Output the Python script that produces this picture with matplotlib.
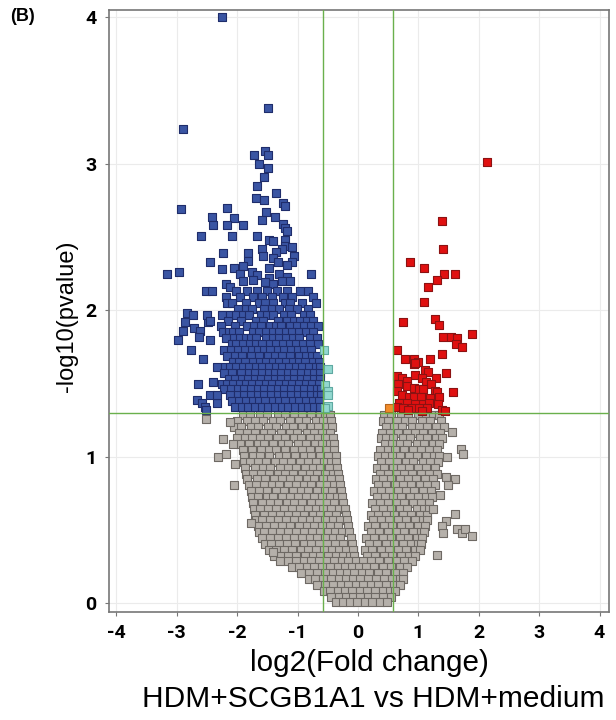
import matplotlib
matplotlib.use('Agg')
import matplotlib.pyplot as plt
import numpy as np

# log2 fold change thresholds and p-value threshold
fc_cut = 0.585
p_cut = 1.301

# significant, down (blue): scattered points outside the dense core
blue_x = [-2.25, -1.49, -2.90, -1.54, -1.72, -1.49, -1.64, -1.49, -1.56, -1.67,
          -1.36, -1.69, -1.56, -1.24, -1.21, -2.93, -2.17, -2.42, -2.05, -1.52,
          -1.59, -1.37, -2.40, -2.17, -1.90, -1.24, -1.21, -1.18, -2.60, -2.09,
          -1.67, -1.47, -1.41, -1.21, -1.21, -1.59, -1.26, -1.09, -2.24, -1.82,
          -1.36, -1.57, -1.06, -1.82, -1.41, -1.32, -1.09, -2.45, -1.90, -2.25,
          -2.05, -1.47, -1.18, -0.78, -1.75, -1.31, -1.18, -1.95, -1.67, -1.47,
          -3.16, -2.96, -1.90, -1.26, -1.13, -1.74, -2.19, -2.12, -1.41, -1.54,
          -2.65, -2.40, -2.67, -2.58, -2.33, -2.53, -2.83, -2.73, -2.86, -2.72,
          -2.48, -2.90, -2.62, -2.98, -2.63, -2.45, -2.76, -2.57, -2.52]
blue_y = [4.00, 3.38, 3.24, 3.09, 3.06, 3.06, 3.00, 2.97, 2.91, 2.85,
          2.80, 2.77, 2.75, 2.73, 2.71, 2.69, 2.70, 2.64, 2.63, 2.67,
          2.62, 2.64, 2.58, 2.58, 2.58, 2.59, 2.56, 2.54, 2.51, 2.51,
          2.51, 2.48, 2.47, 2.48, 2.44, 2.42, 2.42, 2.43, 2.39, 2.39,
          2.40, 2.37, 2.37, 2.34, 2.36, 2.33, 2.33, 2.33, 2.30, 2.28,
          2.29, 2.29, 2.31, 2.25, 2.26, 2.25, 2.23, 2.25, 2.24, 2.22,
          2.25, 2.26, 2.20, 2.20, 2.20, 2.21, 2.18, 2.16, 2.18, 2.19,
          1.50, 1.51, 1.39, 1.37, 1.37, 1.34, 1.98, 1.97, 1.92, 1.88,
          1.92, 1.86, 1.86, 1.80, 1.82, 1.80, 1.73, 1.67, 1.32]

# dense core of the blue group, row by row (y, xs)
blue_rows = [
    (2.13, [-2.52, -2.42, -2.02, -1.84, -1.67, -1.51, -1.34, -1.18, -0.96, -0.83]),
    (2.09, [-2.19, -1.95, -1.74, -1.59, -1.42, -1.24, -1.09, -0.75]),
    (2.05, [-2.17, -2.09, -1.86, -1.64, -1.54, -1.41, -1.21, -1.12, -0.93, -0.70]),
    (2.01, [-1.99, -1.86, -1.75, -1.55, -1.43, -1.30, -1.14, -1.01, -0.83]),
    (1.97, [-2.50, -2.25, -2.12, -2.02, -1.90, -1.80, -1.60, -1.51, -1.40, -1.22,
            -1.10, -0.90, -0.79]),
    (1.93, [-2.45, -2.15, -1.94, -1.69, -1.57, -1.32, -1.17, -1.06, -0.96, -0.85,
            -0.74]),
    (1.89, [-2.27, -2.04, -1.84, -1.72, -1.60, -1.46, -1.36, -1.27, -1.12, -1.01,
            -0.90, -0.78, -0.66]),
    (1.85, [-2.24, -2.13, -2.06, -1.97, -1.74, -1.63, -1.52, -1.41, -1.30, -1.19,
            -1.09, -0.97, -0.86, -0.75]),
    (1.81, [-2.18, -2.05, -1.95, -1.86, -1.77, -1.68, -1.52, -1.41, -1.30, -1.19,
            -1.08, -0.97, -0.80, -0.68]),
    (1.77, [-2.09, -2.01, -1.91, -1.79, -1.68, -1.58, -1.46, -1.35, -1.24, -1.13,
            -1.02, -0.91, -0.80, -0.66]),
    (1.73, [-2.21, -2.10, -1.98, -1.87, -1.76, -1.65, -1.55, -1.45, -1.33, -1.22,
            -1.11, -1.00, -0.89, -0.78]),
    (1.69, [-2.17, -2.04, -1.92, -1.77, -1.63, -1.49, -1.38, -1.25, -1.12, -0.98,
            -0.86, -0.76, -0.67]),
    (1.65, [-2.07, -1.97, -1.87, -1.73, -1.62, -1.52, -1.41, -1.30, -1.19, -1.08,
            -0.97, -0.87, -0.75, -0.64]),
    (1.61, [-2.33, -2.20, -2.12, -2.02, -1.91, -1.80, -1.68, -1.58, -1.47, -1.35,
            -1.25, -1.14, -1.03, -0.92, -0.81, -0.70, -0.62]),
    (1.57, [-2.22, -2.09, -1.93, -1.81, -1.70, -1.59, -1.48, -1.38, -1.27, -1.16,
            -1.05, -0.94, -0.83, -0.72, -0.62]),
    (1.53, [-2.13, -2.03, -1.92, -1.82, -1.71, -1.60, -1.49, -1.38, -1.27, -1.16,
            -1.06, -0.95, -0.84, -0.73, -0.63]),
    (1.50, [-2.25, -2.16, -2.07, -1.96, -1.85, -1.75, -1.63, -1.52, -1.42, -1.30,
            -1.19, -1.09, -0.98, -0.86, -0.76, -0.65]),
    (1.46, [-2.21, -2.10, -1.99, -1.88, -1.77, -1.66, -1.55, -1.44, -1.33, -1.22,
            -1.11, -1.00, -0.89, -0.78, -0.68, -0.61]),
    (1.42, [-2.45, -2.33, -2.11, -1.99, -1.88, -1.77, -1.66, -1.55, -1.44, -1.33,
            -1.22, -1.11, -1.00, -0.89, -0.78, -0.68, -0.61]),
    (1.38, [-2.08, -1.97, -1.85, -1.74, -1.63, -1.53, -1.41, -1.30, -1.20, -1.08,
            -0.97, -0.86, -0.75, -0.65]),
    (1.34, [-2.04, -1.92, -1.82, -1.71, -1.59, -1.49, -1.37, -1.26, -1.16, -1.04,
            -0.93, -0.83, -0.72, -0.63]),
]

# significant, up (red)
red_x = [2.14, 1.39, 1.41, 0.86, 1.09, 1.42, 1.61, 1.31, 1.16, 1.09,
         0.75, 1.27, 1.35, 1.89, 1.41, 1.54, 1.64, 1.62, 1.72, 0.65,
         0.78, 0.93, 0.99, 0.93, 1.19, 1.39, 1.46, 1.11, 1.16, 0.94,
         1.29, 1.06, 0.65, 0.73, 0.81, 1.13, 1.21, 0.66, 0.81, 0.93,
         1.01, 1.08, 0.65, 1.27, 1.31, 1.57, 0.73, 0.84, 0.93, 1.04,
         1.19, 1.35, 0.68, 0.81, 0.94, 1.08, 1.18, 1.32, 0.64, 0.75,
         0.89, 1.01, 1.14, 1.39, 1.44, 0.83, 1.06, 0.94]
red_y = [3.01, 2.61, 2.42, 2.33, 2.29, 2.25, 2.25, 2.21, 2.16, 2.06,
         1.92, 1.94, 1.90, 1.84, 1.82, 1.82, 1.81, 1.77, 1.75, 1.73,
         1.67, 1.67, 1.65, 1.63, 1.67, 1.70, 1.57, 1.59, 1.58, 1.56,
         1.54, 1.54, 1.55, 1.54, 1.52, 1.51, 1.50, 1.50, 1.48, 1.47,
         1.46, 1.46, 1.45, 1.45, 1.44, 1.44, 1.42, 1.41, 1.41, 1.41,
         1.40, 1.41, 1.37, 1.37, 1.36, 1.36, 1.37, 1.36, 1.34, 1.33,
         1.33, 1.33, 1.33, 1.32, 1.31, 1.32, 1.31, 1.64]

# borderline fold change (light teal / orange)
teal_x = [-0.56, -0.50, -0.55, -0.50, -0.50, -0.50, -0.55]
teal_y = [1.73, 1.60, 1.49, 1.45, 1.42, 1.35, 1.33]
orange_x = [0.51]
orange_y = [1.33]

# not significant (grey): outliers around the V
gray_x = [-2.52, -2.12, -2.24, -2.07, -2.32, -2.19, -2.04, -2.05, -1.77, -1.41,
          1.56, 1.71, 1.74, 1.47, 1.46, 1.61, 1.49, 1.36, 1.24, 1.61,
          1.46, 1.39, 1.64, 1.72, 1.77, 1.89, 1.41, 1.31]
gray_y = [1.26, 1.24, 1.12, 1.09, 1.00, 1.02, 0.95, 0.81, 0.55, 0.35,
          1.17, 1.05, 1.02, 1.00, 0.86, 0.85, 0.81, 0.74, 0.64, 0.61,
          0.56, 0.53, 0.51, 0.48, 0.51, 0.46, 0.48, 0.33]

# not significant (grey): the V-shaped cloud, row by row (y, xs)
gray_rows = [
    (1.285, [-1.90, -1.79, -1.62, -1.50, -1.33, -1.21, -1.05, -0.93, -0.78, -0.63,
             -0.55, -0.47, 0.43, 0.55, 0.71, 0.83, 0.99, 1.12, 1.25, 1.35]),
    (1.245, [-2.00, -1.84, -1.71, -1.57, -1.40, -1.29, -1.13, -0.98, -0.86, -0.70,
             -0.58, -0.45, 0.41, 0.49, 0.64, 0.78, 0.90, 1.06, 1.19, 1.37]),
    (1.205, [-2.05, -1.93, -1.77, -1.66, -1.49, -1.35, -1.19, -1.08, -0.92, -0.78,
             -0.66, -0.52, -0.43, 0.46, 0.60, 0.73, 0.89, 1.01, 1.15, 1.30, 1.42]),
    (1.165, [-1.97, -1.83, -1.70, -1.55, -1.44, -1.27, -1.12, -1.01, -0.84, -0.73,
             -0.60, -0.47, 0.40, 0.53, 0.66, 0.81, 0.95, 1.08, 1.23, 1.36]),
    (1.125, [-2.00, -1.87, -1.76, -1.62, -1.49, -1.34, -1.21, -1.06, -0.95, -0.79,
             -0.66, -0.54, -0.42, 0.38, 0.47, 0.58, 0.74, 0.87, 1.02, 1.14, 1.29,
             1.40]),
    (1.085, [-1.95, -1.81, -1.66, -1.55, -1.41, -1.26, -1.15, -0.99, -0.86, -0.71,
             -0.59, -0.47, -0.40, 0.44, 0.56, 0.70, 0.82, 0.97, 1.09, 1.24, 1.35]),
    (1.045, [-1.91, -1.75, -1.60, -1.47, -1.35, -1.20, -1.06, -0.92, -0.79, -0.65,
             -0.53, -0.39, 0.36, 0.50, 0.62, 0.77, 0.91, 1.04, 1.18, 1.31]),
    (1.005, [-1.89, -1.73, -1.62, -1.47, -1.31, -1.19, -1.04, -0.89, -0.77, -0.62,
             -0.49, -0.37, 0.34, 0.45, 0.57, 0.70, 0.85, 0.98, 1.12, 1.26, 1.35]),
    (0.965, [-1.88, -1.79, -1.65, -1.52, -1.38, -1.24, -1.10, -0.96, -0.83, -0.69,
             -0.56, -0.44, -0.36, 0.39, 0.51, 0.65, 0.79, 0.92, 1.07, 1.20, 1.33]),
    (0.925, [-1.87, -1.70, -1.57, -1.45, -1.29, -1.16, -1.03, -0.88, -0.74, -0.62,
             -0.48, -0.34, 0.32, 0.43, 0.58, 0.71, 0.84, 0.99, 1.13, 1.28]),
    (0.885, [-1.85, -1.74, -1.60, -1.48, -1.33, -1.20, -1.07, -0.93, -0.80, -0.67,
             -0.55, -0.42, -0.33, 0.36, 0.49, 0.64, 0.77, 0.90, 1.04, 1.18, 1.31]),
    (0.845, [-1.83, -1.67, -1.54, -1.39, -1.26, -1.13, -0.99, -0.85, -0.72, -0.58,
             -0.45, -0.31, 0.30, 0.41, 0.55, 0.69, 0.83, 0.96, 1.11, 1.25]),
    (0.805, [-1.80, -1.69, -1.56, -1.43, -1.30, -1.16, -1.02, -0.89, -0.77, -0.63,
             -0.51, -0.39, -0.30, 0.33, 0.47, 0.61, 0.74, 0.88, 1.02, 1.15, 1.27]),
    (0.765, [-1.77, -1.63, -1.50, -1.35, -1.22, -1.08, -0.95, -0.82, -0.68, -0.55,
             -0.43, -0.28, 0.27, 0.39, 0.52, 0.66, 0.80, 0.93, 1.08, 1.21]),
    (0.725, [-1.75, -1.65, -1.51, -1.40, -1.26, -1.12, -0.99, -0.86, -0.73, -0.60,
             -0.47, -0.35, -0.26, 0.31, 0.45, 0.58, 0.71, 0.86, 0.99, 1.13, 1.22]),
    (0.685, [-1.73, -1.59, -1.46, -1.32, -1.18, -1.05, -0.92, -0.78, -0.65, -0.52,
             -0.39, -0.24, 0.24, 0.36, 0.50, 0.63, 0.77, 0.91, 1.04, 1.18]),
    (0.645, [-1.72, -1.62, -1.49, -1.36, -1.23, -1.09, -0.96, -0.83, -0.70, -0.57,
             -0.44, -0.32, -0.22, 0.28, 0.42, 0.55, 0.69, 0.82, 0.97, 1.10, 1.18]),
    (0.605, [-1.71, -1.56, -1.43, -1.29, -1.15, -1.02, -0.89, -0.75, -0.62, -0.50,
             -0.37, -0.20, 0.21, 0.33, 0.46, 0.60, 0.74, 0.88, 1.02, 1.15]),
    (0.565, [-1.69, -1.59, -1.46, -1.33, -1.19, -1.06, -0.93, -0.80, -0.67, -0.54,
             -0.42, -0.29, -0.18, 0.25, 0.39, 0.52, 0.66, 0.80, 0.94, 1.07, 1.14]),
    (0.525, [-1.66, -1.52, -1.39, -1.26, -1.12, -0.98, -0.85, -0.72, -0.59, -0.46,
             -0.33, -0.16, 0.17, 0.29, 0.43, 0.57, 0.71, 0.85, 0.99, 1.11]),
    (0.485, [-1.63, -1.55, -1.42, -1.29, -1.16, -1.02, -0.89, -0.76, -0.63, -0.50,
             -0.38, -0.26, -0.14, 0.21, 0.35, 0.49, 0.63, 0.77, 0.91, 1.04, 1.09]),
    (0.445, [-1.59, -1.46, -1.33, -1.19, -1.06, -0.93, -0.80, -0.67, -0.54, -0.42,
             -0.30, -0.12, 0.14, 0.27, 0.41, 0.55, 0.69, 0.83, 0.97, 1.06]),
    (0.405, [-1.54, -1.44, -1.31, -1.17, -1.04, -0.90, -0.77, -0.64, -0.51, -0.38,
             -0.25, -0.10, 0.18, 0.32, 0.46, 0.60, 0.74, 0.88, 1.00, 1.04]),
    (0.365, [-1.47, -1.35, -1.22, -1.09, -0.95, -0.82, -0.69, -0.56, -0.43, -0.31,
             -0.19, -0.08, 0.11, 0.24, 0.38, 0.52, 0.66, 0.80, 0.94, 1.02]),
    (0.325, [-1.39, -1.28, -1.15, -1.02, -0.88, -0.75, -0.62, -0.49, -0.37, -0.24,
             -0.13, -0.06, 0.15, 0.29, 0.43, 0.57, 0.71, 0.85, 0.94]),
    (0.285, [-1.29, -1.16, -1.03, -0.90, -0.77, -0.64, -0.51, -0.39, -0.27, -0.16,
             -0.04, 0.08, 0.21, 0.35, 0.49, 0.63, 0.77, 0.89]),
    (0.245, [-1.09, -0.98, -0.85, -0.72, -0.59, -0.46, -0.33, -0.21, -0.10, 0.01,
             0.13, 0.27, 0.41, 0.55, 0.69, 0.82]),
    (0.205, [-0.94, -0.81, -0.68, -0.55, -0.42, -0.30, -0.18, -0.06, 0.06, 0.19,
             0.33, 0.47, 0.61, 0.75]),
    (0.165, [-0.81, -0.71, -0.58, -0.45, -0.32, -0.20, -0.08, 0.04, 0.17, 0.30,
             0.43, 0.57, 0.70, 0.74]),
    (0.125, [-0.67, -0.54, -0.41, -0.28, -0.16, -0.04, 0.09, 0.21, 0.34, 0.47,
             0.60, 0.70]),
    (0.085, [-0.56, -0.46, -0.33, -0.21, -0.09, 0.03, 0.15, 0.28, 0.41, 0.53,
             0.62]),
    (0.045, [-0.45, -0.32, -0.20, -0.08, 0.04, 0.16, 0.29, 0.42, 0.55]),
    (0.010, [-0.36, -0.25, -0.13, -0.01, 0.11, 0.23, 0.36, 0.48]),
]


def unroll(rows):
    xs, ys = [], []
    for y, row in rows:
        xs.extend(row)
        ys.extend([y] * len(row))
    return xs, ys


def plot_volcano():
    fig = plt.figure(figsize=(6.16, 7.2), dpi=100)
    ax = fig.add_axes([0.177, 0.15, 0.812, 0.836])

    ms = 34
    gx, gy = unroll(gray_rows)
    ax.scatter(gx + gray_x, gy + gray_y, s=ms, marker='s', c='#b5b0aa',
               edgecolors='#6e6964', linewidths=0.8, zorder=3)

    bx, by = unroll(blue_rows)
    ax.scatter(blue_x + bx, blue_y + by, s=ms, marker='s', c='#3a55a3',
               edgecolors='#1f2d6b', linewidths=0.8, zorder=4)
    ax.scatter(red_x, red_y, s=ms, marker='s', c='#e01010',
               edgecolors='#8c1212', linewidths=0.8, zorder=4)
    ax.scatter(teal_x, teal_y, s=ms, marker='s', c='#92d8d0',
               edgecolors='#5fa9a2', linewidths=0.8, zorder=5)
    ax.scatter(orange_x, orange_y, s=ms, marker='s', c='#f28c2a',
               edgecolors='#b5651d', linewidths=0.8, zorder=5)

    # thresholds
    for v in (-fc_cut, fc_cut):
        ax.axvline(v, color='#6ab04c', lw=1.0, zorder=6)
    ax.axhline(p_cut, color='#6ab04c', lw=1.0, zorder=6)

    ax.set_xlim(-4.12, 4.16)
    ax.set_ylim(-0.06, 4.05)
    ax.set_xticks(np.arange(-4, 5, 1))
    ax.set_yticks(np.arange(0, 5, 1))
    ax.grid(True, color='#ebebeb', lw=0.8, zorder=0)
    ax.set_axisbelow(True)

    for sp in ax.spines.values():
        sp.set_color('#777777')
        sp.set_linewidth(1.2)
    ax.tick_params(colors='#777777', length=3, width=0.8)

    tick_font = dict(family=['Liberation Sans Narrow', 'Roboto', 'DejaVu Sans'],
                     weight='bold', size=14, color='black')
    ax.set_xticklabels([str(t) for t in range(-4, 5)], **tick_font)
    ax.set_yticklabels([str(t) for t in range(0, 5)], **tick_font)
    ax.tick_params(axis='x', pad=6)
    ax.tick_params(axis='y', pad=6)

    lab_font = dict(family=['Liberation Sans', 'DejaVu Sans'])
    fig.text(0.599, 0.079, 'log2(Fold change)', ha='center', va='center',
             size=21.3, **lab_font)
    fig.text(0.606, 0.029, 'HDM+SCGB1A1 vs HDM+medium', ha='center', va='center',
             size=21.5, **lab_font)
    fig.text(0.108, 0.561, '-log10(pvalue)', rotation=90, ha='center',
             va='center', size=17, **lab_font)
    fig.text(0.016, 0.989, '(B)', ha='left', va='top', weight='bold', size=13,
             **lab_font)

    fig.savefig('out.png', dpi=100)


def main():
    plot_volcano()


if __name__ == '__main__':
    main()
